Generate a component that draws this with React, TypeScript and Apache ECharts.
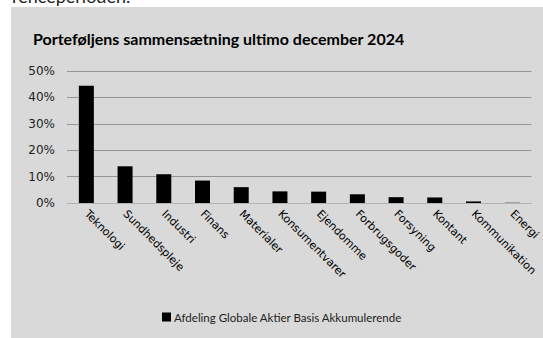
import React, { useEffect, useRef } from "react";
import * as echarts from "echarts";

const categories = [
  "Teknologi",
  "Sundhedspleje",
  "Industri",
  "Finans",
  "Materialer",
  "Konsumentvarer",
  "Ejendomme",
  "Forbrugsgoder",
  "Forsyning",
  "Kontant",
  "Kommunikation",
  "Energi",
];
const values = [44.4, 13.9, 10.9, 8.5, 6.0, 4.4, 4.3, 3.3, 2.2, 2.1, 0.6, 0.1];
const seriesName = "Afdeling Globale Aktier Basis Akkumulerende";
const titleText = "Porteføljens sammensætning ultimo december 2024";
const topFragment = "renceperioden.";

export default function App() {
  const ref = useRef<HTMLDivElement>(null);
  useEffect(() => {
    document.body.style.margin = "0";
    const chart = echarts.init(ref.current!, null, { renderer: "svg" });
    chart.setOption({
      animation: false,
      backgroundColor: "#ffffff",
      graphic: [
        {
          type: "rect",
          z: -10,
          shape: { x: 11, y: 7, width: 532, height: 331 },
          style: { fill: "#d9d9d9" },
        },
        {
          type: "text",
          x: 12,
          y: -13,
          style: {
            text: topFragment,
            font: "18px Lato",
            fill: "#222",
          },
        },
      ],
      title: {
        text: titleText,
        left: 33,
        top: 30,
        padding: 0,
        textStyle: {
          fontFamily: "Lato",
          fontWeight: "bold",
          fontSize: 16,
          color: "#000",
        },
      },
      legend: {
        bottom: 15,
        left: 162,
        itemWidth: 9,
        itemHeight: 9,
        itemGap: 3,
        padding: 0,
        icon: "rect",
        textStyle: { fontFamily: "Lato", fontSize: 11.5, color: "#222", padding: [0, 0, 0, -2] },
        data: [seriesName],
      },
      grid: { left: 67, right: 11, top: 71, bottom: 135, containLabel: false },
      xAxis: {
        type: "category",
        data: categories,
        axisLine: { lineStyle: { color: "#b3b3b3", width: 1 } },
        axisTick: { show: false },
        axisLabel: {
          rotate: -45,
          interval: 0,
          margin: 9,
          fontFamily: "DejaVu Sans",
          fontSize: 11,
          color: "#000",
        },
      },
      yAxis: {
        type: "value",
        min: 0,
        max: 50,
        interval: 10,
        axisLine: { show: false },
        axisTick: { show: false },
        splitLine: { lineStyle: { color: "#959595", width: 1 } },
        axisLabel: {
          formatter: "{value}%",
          fontFamily: "DejaVu Sans",
          fontSize: 12,
          color: "#222",
          margin: 12,
        },
      },
      series: [
        {
          name: seriesName,
          type: "bar",
          data: values,
          barWidth: 15,
          itemStyle: { color: "#000000" },
        },
      ],
    });
    return () => chart.dispose();
  }, []);
  return <div ref={ref} style={{ width: 543, height: 338 }} />;
}
